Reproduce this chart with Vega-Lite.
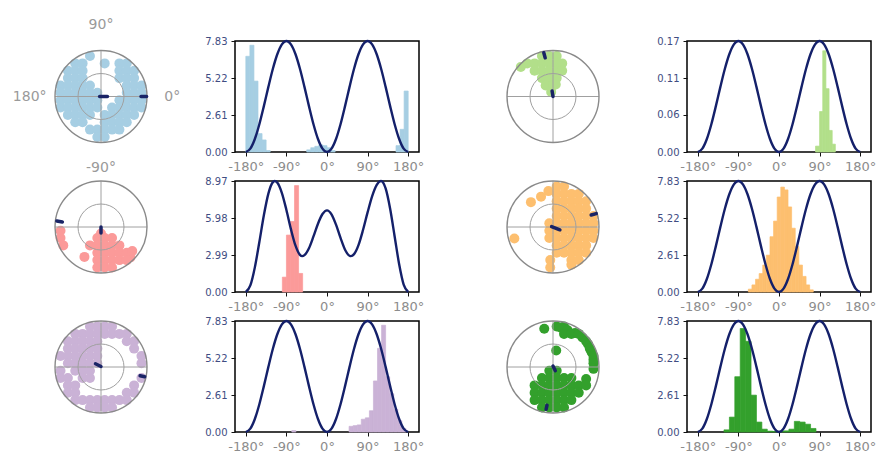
{
"$schema": "https://vega.github.io/schema/vega-lite/v6.json",
"padding": {"left": 12, "top": 18, "right": 0, "bottom": 0},
"background": "white",
"config": {"font": "DejaVu Sans", "view": {"stroke": null}, "axis": {"grid": false, "domain": false, "tickColor": "#111111", "tickSize": 4, "title": null, "labelFlush": false}, "bar": {"strokeWidth": 0.7}},
"columns": 4,
"align": "each",
"bounds": "flush",
"center": true,
"spacing": {"row": 29, "column": 88},
"datasets": {
"s783": [{"x":-180,"y":0},{"x":-170,"y":0.236},{"x":-160,"y":0.916},{"x":-150,"y":1.958},{"x":-140,"y":3.235},{"x":-130,"y":4.595},{"x":-120,"y":5.873},{"x":-110,"y":6.914},{"x":-100,"y":7.594},{"x":-90,"y":7.83},{"x":-80,"y":7.594},{"x":-70,"y":6.914},{"x":-60,"y":5.873},{"x":-50,"y":4.595},{"x":-40,"y":3.235},{"x":-30,"y":1.958},{"x":-20,"y":0.916},{"x":-10,"y":0.236},{"x":0,"y":0},{"x":10,"y":0.236},{"x":20,"y":0.916},{"x":30,"y":1.958},{"x":40,"y":3.235},{"x":50,"y":4.595},{"x":60,"y":5.873},{"x":70,"y":6.914},{"x":80,"y":7.594},{"x":90,"y":7.83},{"x":100,"y":7.594},{"x":110,"y":6.914},{"x":120,"y":5.873},{"x":130,"y":4.595},{"x":140,"y":3.235},{"x":150,"y":1.958},{"x":160,"y":0.916},{"x":170,"y":0.236},{"x":180,"y":0}],
"s017": [{"x":-180,"y":0},{"x":-170,"y":0.00513},{"x":-160,"y":0.01989},{"x":-150,"y":0.0425},{"x":-140,"y":0.07024},{"x":-130,"y":0.09976},{"x":-120,"y":0.1275},{"x":-110,"y":0.15011},{"x":-100,"y":0.16487},{"x":-90,"y":0.17},{"x":-80,"y":0.16487},{"x":-70,"y":0.15011},{"x":-60,"y":0.1275},{"x":-50,"y":0.09976},{"x":-40,"y":0.07024},{"x":-30,"y":0.0425},{"x":-20,"y":0.01989},{"x":-10,"y":0.00513},{"x":0,"y":0},{"x":10,"y":0.00513},{"x":20,"y":0.01989},{"x":30,"y":0.0425},{"x":40,"y":0.07024},{"x":50,"y":0.09976},{"x":60,"y":0.1275},{"x":70,"y":0.15011},{"x":80,"y":0.16487},{"x":90,"y":0.17},{"x":100,"y":0.16487},{"x":110,"y":0.15011},{"x":120,"y":0.1275},{"x":130,"y":0.09976},{"x":140,"y":0.07024},{"x":150,"y":0.0425},{"x":160,"y":0.01989},{"x":170,"y":0.00513},{"x":180,"y":0}],
"spink": [{"x":-180,"y":0},{"x":-170,"y":0.53},{"x":-160,"y":1.99},{"x":-150,"y":4.04},{"x":-140,"y":6.2},{"x":-130,"y":7.95},{"x":-120,"y":8.88},{"x":-116,"y":8.97},{"x":-110,"y":8.83},{"x":-100,"y":8.0},{"x":-90,"y":6.63},{"x":-80,"y":5.08},{"x":-70,"y":3.76},{"x":-60,"y":3.0},{"x":-55,"y":2.9},{"x":-50,"y":2.98},{"x":-40,"y":3.54},{"x":-30,"y":4.49},{"x":-20,"y":5.52},{"x":-10,"y":6.3},{"x":0,"y":6.6},{"x":10,"y":6.28},{"x":20,"y":5.44},{"x":30,"y":4.37},{"x":40,"y":3.42},{"x":50,"y":2.93},{"x":53,"y":2.9},{"x":60,"y":3.06},{"x":70,"y":3.81},{"x":80,"y":5.03},{"x":90,"y":6.43},{"x":100,"y":7.73},{"x":110,"y":8.64},{"x":120,"y":8.97},{"x":130,"y":8.37},{"x":140,"y":6.73},{"x":150,"y":4.49},{"x":160,"y":2.24},{"x":170,"y":0.6},{"x":180,"y":0}]
},
"concat": [
{"width": 92, "height": 92, "layer": [
 {"data": {"values": [{"x":-0.24,"y":0.88},{"x":-0.56,"y":0.72},{"x":-0.40,"y":0.72},{"x":0.08,"y":0.72},{"x":0.40,"y":0.72},{"x":0.56,"y":0.72},{"x":-0.72,"y":0.56},{"x":-0.56,"y":0.56},{"x":-0.40,"y":0.56},{"x":0.40,"y":0.56},{"x":0.56,"y":0.56},{"x":0.72,"y":0.56},{"x":-0.72,"y":0.40},{"x":-0.56,"y":0.40},{"x":-0.40,"y":0.40},{"x":0.40,"y":0.40},{"x":0.56,"y":0.40},{"x":0.72,"y":0.40},{"x":-0.88,"y":0.24},{"x":-0.72,"y":0.24},{"x":-0.56,"y":0.24},{"x":-0.40,"y":0.24},{"x":-0.24,"y":0.24},{"x":0.56,"y":0.24},{"x":0.72,"y":0.24},{"x":0.88,"y":0.24},{"x":-0.88,"y":0.08},{"x":-0.72,"y":0.08},{"x":-0.56,"y":0.08},{"x":-0.40,"y":0.08},{"x":-0.24,"y":0.08},{"x":-0.08,"y":0.08},{"x":0.56,"y":0.08},{"x":0.72,"y":0.08},{"x":0.88,"y":0.08},{"x":-0.88,"y":-0.08},{"x":-0.72,"y":-0.08},{"x":-0.56,"y":-0.08},{"x":-0.40,"y":-0.08},{"x":-0.24,"y":-0.08},{"x":-0.08,"y":-0.08},{"x":0.40,"y":-0.08},{"x":0.56,"y":-0.08},{"x":0.72,"y":-0.08},{"x":0.88,"y":-0.08},{"x":-0.88,"y":-0.24},{"x":-0.72,"y":-0.24},{"x":-0.56,"y":-0.24},{"x":-0.40,"y":-0.24},{"x":-0.24,"y":-0.24},{"x":-0.08,"y":-0.24},{"x":0.24,"y":-0.24},{"x":0.40,"y":-0.24},{"x":0.56,"y":-0.24},{"x":0.72,"y":-0.24},{"x":0.88,"y":-0.24},{"x":-0.72,"y":-0.40},{"x":-0.56,"y":-0.40},{"x":-0.40,"y":-0.40},{"x":-0.24,"y":-0.40},{"x":0.08,"y":-0.40},{"x":0.24,"y":-0.40},{"x":0.40,"y":-0.40},{"x":0.56,"y":-0.40},{"x":0.72,"y":-0.40},{"x":-0.56,"y":-0.56},{"x":-0.40,"y":-0.56},{"x":0.08,"y":-0.56},{"x":0.24,"y":-0.56},{"x":0.40,"y":-0.56},{"x":0.56,"y":-0.56},{"x":-0.24,"y":-0.72},{"x":-0.08,"y":-0.72},{"x":0.08,"y":-0.72},{"x":0.24,"y":-0.72},{"x":0.40,"y":-0.72},{"x":-0.08,"y":-0.88},{"x":0.08,"y":-0.88}]},
  "mark": {"type": "circle", "size": 100, "color": "#a6cee3", "opacity": 1},
  "encoding": {"x": {"field": "x", "type": "quantitative", "scale": {"domain": [-1, 1], "nice": false}, "axis": null}, "y": {"field": "y", "type": "quantitative", "scale": {"domain": [-1, 1], "nice": false}, "axis": null}}},
 {"data": {"values": [{}]}, "mark": {"type": "rule", "color": "#a0a0a0", "strokeWidth": 1}, "encoding": {"x": {"datum": 0, "type": "quantitative", "scale": {"domain": [-1, 1], "nice": false}, "axis": null}}},
 {"data": {"values": [{}]}, "mark": {"type": "rule", "color": "#a0a0a0", "strokeWidth": 1}, "encoding": {"y": {"datum": 0, "type": "quantitative", "scale": {"domain": [-1, 1], "nice": false}, "axis": null}}},
 {"data": {"values": [{"c": 0}]}, "mark": {"type": "point", "shape": "circle", "filled": false, "size": 2116, "color": "#a0a0a0", "strokeWidth": 1, "opacity": 1}, "encoding": {"x": {"field": "c", "type": "quantitative", "scale": {"domain": [-1, 1], "nice": false}, "axis": null}, "y": {"field": "c", "type": "quantitative", "scale": {"domain": [-1, 1], "nice": false}, "axis": null}}},
 {"data": {"values": [{"c": 0}]}, "mark": {"type": "point", "shape": "circle", "filled": false, "size": 8464, "color": "#8a8a8a", "strokeWidth": 1.4, "opacity": 1}, "encoding": {"x": {"field": "c", "type": "quantitative", "scale": {"domain": [-1, 1], "nice": false}, "axis": null}, "y": {"field": "c", "type": "quantitative", "scale": {"domain": [-1, 1], "nice": false}, "axis": null}}},
 {"data": {"values": [{"x": -0.03, "y": 0, "x2": 0.14, "y2": 0}, {"x": 0.87, "y": 0, "x2": 0.99, "y2": 0}]}, "mark": {"type": "rule", "color": "#1a2466", "strokeWidth": 3.5, "strokeCap": "round"}, "encoding": {"x": {"field": "x", "type": "quantitative", "scale": {"domain": [-1, 1], "nice": false}, "axis": null}, "y": {"field": "y", "type": "quantitative", "scale": {"domain": [-1, 1], "nice": false}, "axis": null}, "x2": {"field": "x2"}, "y2": {"field": "y2"}}},
 {"data": {"values": [{"t": "90°", "x": 0, "y": 1.55}, {"t": "180°", "x": -1.55, "y": 0}, {"t": "0°", "x": 1.55, "y": 0}, {"t": "-90°", "x": 0, "y": -1.55}]}, "mark": {"type": "text", "fontSize": 14, "color": "#9a9a9a", "align": "center", "baseline": "middle"}, "encoding": {"x": {"field": "x", "type": "quantitative", "scale": {"domain": [-1, 1], "nice": false}, "axis": null}, "y": {"field": "y", "type": "quantitative", "scale": {"domain": [-1, 1], "nice": false}, "axis": null}, "text": {"field": "t"}}}
]},
{"width": 184, "height": 111, "view": {"stroke": "#000000", "strokeWidth": 1.5},
 "encoding": {"x": {"field": "x", "type": "quantitative", "scale": {"domain": [-204, 204], "nice": false, "zero": false}, "axis": {"values": [-180, -90, 0, 90, 180], "labelExpr": "datum.value + '°'", "labelColor": "#8c8c8c", "labelFontSize": 13, "labelPadding": 4}}, "y": {"field": "y", "type": "quantitative", "scale": {"domain": [0, 7.83], "nice": false}, "axis": {"values": [0, 2.61, 5.22, 7.83], "format": ".2f", "labelColor": "#3f4d82", "labelFontSize": 10, "labelPadding": 4}}},
 "layer": [
 {"data": {"values": [{"x":-180,"x2":-171,"y":6.75},{"x":-171,"x2":-162,"y":7.53},{"x":-162,"x2":-153,"y":5.0},{"x":-153,"x2":-144,"y":1.3},{"x":-144,"x2":-135,"y":0.85},{"x":-135,"x2":-126,"y":0.1},{"x":-45,"x2":-36,"y":0.15},{"x":-36,"x2":-27,"y":0.3},{"x":-27,"x2":-18,"y":0.4},{"x":-18,"x2":-9,"y":0.5},{"x":-9,"x2":0,"y":0.45},{"x":0,"x2":9,"y":0.3},{"x":9,"x2":18,"y":0.1},{"x":153,"x2":162,"y":0.45},{"x":162,"x2":171,"y":1.6},{"x":171,"x2":180,"y":4.3}]}, "mark": {"type": "bar", "color": "#a6cee3", "stroke": "#a6cee3"}, "encoding": {"x2": {"field": "x2"}, "y2": {"datum": 0}}},
 {"data": {"name": "s783"}, "mark": {"type": "line", "color": "#14206a", "strokeWidth": 2.4, "interpolate": "monotone"}}
]},
{"width": 92, "height": 92, "layer": [
 {"data": {"values": [{"x":-0.24,"y":0.88},{"x":-0.08,"y":0.88},{"x":0.08,"y":0.88},{"x":-0.56,"y":0.72},{"x":-0.40,"y":0.72},{"x":-0.24,"y":0.72},{"x":-0.08,"y":0.72},{"x":0.08,"y":0.72},{"x":0.20,"y":0.72},{"x":-0.70,"y":0.64},{"x":-0.40,"y":0.56},{"x":-0.24,"y":0.56},{"x":-0.08,"y":0.56},{"x":0.08,"y":0.56},{"x":0.20,"y":0.56},{"x":-0.24,"y":0.40},{"x":-0.08,"y":0.40},{"x":0.08,"y":0.40},{"x":-0.16,"y":0.24},{"x":0.0,"y":0.24},{"x":0.06,"y":0.26},{"x":-0.04,"y":0.10}]},
  "mark": {"type": "circle", "size": 100, "color": "#b2df8a", "opacity": 1},
  "encoding": {"x": {"field": "x", "type": "quantitative", "scale": {"domain": [-1, 1], "nice": false}, "axis": null}, "y": {"field": "y", "type": "quantitative", "scale": {"domain": [-1, 1], "nice": false}, "axis": null}}},
 {"data": {"values": [{}]}, "mark": {"type": "rule", "color": "#a0a0a0", "strokeWidth": 1}, "encoding": {"x": {"datum": 0, "type": "quantitative", "scale": {"domain": [-1, 1], "nice": false}, "axis": null}}},
 {"data": {"values": [{}]}, "mark": {"type": "rule", "color": "#a0a0a0", "strokeWidth": 1}, "encoding": {"y": {"datum": 0, "type": "quantitative", "scale": {"domain": [-1, 1], "nice": false}, "axis": null}}},
 {"data": {"values": [{"c": 0}]}, "mark": {"type": "point", "shape": "circle", "filled": false, "size": 2116, "color": "#a0a0a0", "strokeWidth": 1, "opacity": 1}, "encoding": {"x": {"field": "c", "type": "quantitative", "scale": {"domain": [-1, 1], "nice": false}, "axis": null}, "y": {"field": "c", "type": "quantitative", "scale": {"domain": [-1, 1], "nice": false}, "axis": null}}},
 {"data": {"values": [{"c": 0}]}, "mark": {"type": "point", "shape": "circle", "filled": false, "size": 8464, "color": "#8a8a8a", "strokeWidth": 1.4, "opacity": 1}, "encoding": {"x": {"field": "c", "type": "quantitative", "scale": {"domain": [-1, 1], "nice": false}, "axis": null}, "y": {"field": "c", "type": "quantitative", "scale": {"domain": [-1, 1], "nice": false}, "axis": null}}},
 {"data": {"values": [{"x": 0, "y": 0, "x2": -0.02, "y2": 0.12}, {"x": -0.17, "y": 0.84, "x2": -0.20, "y2": 0.95}]}, "mark": {"type": "rule", "color": "#1a2466", "strokeWidth": 3.5, "strokeCap": "round"}, "encoding": {"x": {"field": "x", "type": "quantitative", "scale": {"domain": [-1, 1], "nice": false}, "axis": null}, "y": {"field": "y", "type": "quantitative", "scale": {"domain": [-1, 1], "nice": false}, "axis": null}, "x2": {"field": "x2"}, "y2": {"field": "y2"}}}
]},
{"width": 184, "height": 111, "view": {"stroke": "#000000", "strokeWidth": 1.5},
 "encoding": {"x": {"field": "x", "type": "quantitative", "scale": {"domain": [-204, 204], "nice": false, "zero": false}, "axis": {"values": [-180, -90, 0, 90, 180], "labelExpr": "datum.value + '°'", "labelColor": "#8c8c8c", "labelFontSize": 13, "labelPadding": 4}}, "y": {"field": "y", "type": "quantitative", "scale": {"domain": [0, 0.17], "nice": false}, "axis": {"values": [0, 0.0567, 0.1133, 0.17], "format": ".2f", "labelColor": "#3f4d82", "labelFontSize": 10, "labelPadding": 4}}},
 "layer": [
 {"data": {"values": [{"x":81,"x2":90,"y":0.009},{"x":90,"x2":97,"y":0.062},{"x":97,"x2":104,"y":0.155},{"x":104,"x2":111,"y":0.097},{"x":111,"x2":118,"y":0.033},{"x":118,"x2":125,"y":0.012}]}, "mark": {"type": "bar", "color": "#b2df8a", "stroke": "#b2df8a"}, "encoding": {"x2": {"field": "x2"}, "y2": {"datum": 0}}},
 {"data": {"name": "s017"}, "mark": {"type": "line", "color": "#14206a", "strokeWidth": 2.4, "interpolate": "monotone"}}
]},
{"width": 92, "height": 92, "layer": [
 {"data": {"values": [{"x":-0.88,"y":-0.08},{"x":-0.88,"y":-0.24},{"x":-0.82,"y":-0.40},{"x":0.0,"y":-0.14},{"x":-0.08,"y":-0.24},{"x":0.08,"y":-0.24},{"x":0.24,"y":-0.24},{"x":-0.24,"y":-0.40},{"x":-0.08,"y":-0.40},{"x":0.08,"y":-0.40},{"x":0.24,"y":-0.40},{"x":0.40,"y":-0.40},{"x":-0.36,"y":-0.65},{"x":-0.08,"y":-0.56},{"x":0.08,"y":-0.56},{"x":0.24,"y":-0.56},{"x":0.40,"y":-0.56},{"x":0.56,"y":-0.56},{"x":0.68,"y":-0.52},{"x":0.64,"y":-0.66},{"x":-0.08,"y":-0.72},{"x":0.08,"y":-0.72},{"x":0.24,"y":-0.72},{"x":0.40,"y":-0.72},{"x":0.56,"y":-0.72},{"x":-0.08,"y":-0.88},{"x":0.08,"y":-0.88},{"x":0.24,"y":-0.88}]},
  "mark": {"type": "circle", "size": 100, "color": "#fb9a99", "opacity": 1},
  "encoding": {"x": {"field": "x", "type": "quantitative", "scale": {"domain": [-1, 1], "nice": false}, "axis": null}, "y": {"field": "y", "type": "quantitative", "scale": {"domain": [-1, 1], "nice": false}, "axis": null}}},
 {"data": {"values": [{}]}, "mark": {"type": "rule", "color": "#a0a0a0", "strokeWidth": 1}, "encoding": {"x": {"datum": 0, "type": "quantitative", "scale": {"domain": [-1, 1], "nice": false}, "axis": null}}},
 {"data": {"values": [{}]}, "mark": {"type": "rule", "color": "#a0a0a0", "strokeWidth": 1}, "encoding": {"y": {"datum": 0, "type": "quantitative", "scale": {"domain": [-1, 1], "nice": false}, "axis": null}}},
 {"data": {"values": [{"c": 0}]}, "mark": {"type": "point", "shape": "circle", "filled": false, "size": 2116, "color": "#a0a0a0", "strokeWidth": 1, "opacity": 1}, "encoding": {"x": {"field": "c", "type": "quantitative", "scale": {"domain": [-1, 1], "nice": false}, "axis": null}, "y": {"field": "c", "type": "quantitative", "scale": {"domain": [-1, 1], "nice": false}, "axis": null}}},
 {"data": {"values": [{"c": 0}]}, "mark": {"type": "point", "shape": "circle", "filled": false, "size": 8464, "color": "#8a8a8a", "strokeWidth": 1.4, "opacity": 1}, "encoding": {"x": {"field": "c", "type": "quantitative", "scale": {"domain": [-1, 1], "nice": false}, "axis": null}, "y": {"field": "c", "type": "quantitative", "scale": {"domain": [-1, 1], "nice": false}, "axis": null}}},
 {"data": {"values": [{"x": 0, "y": 0, "x2": 0, "y2": -0.13}, {"x": -0.84, "y": 0.11, "x2": -0.96, "y2": 0.13}]}, "mark": {"type": "rule", "color": "#1a2466", "strokeWidth": 3.5, "strokeCap": "round"}, "encoding": {"x": {"field": "x", "type": "quantitative", "scale": {"domain": [-1, 1], "nice": false}, "axis": null}, "y": {"field": "y", "type": "quantitative", "scale": {"domain": [-1, 1], "nice": false}, "axis": null}, "x2": {"field": "x2"}, "y2": {"field": "y2"}}}
]},
{"width": 184, "height": 111, "view": {"stroke": "#000000", "strokeWidth": 1.5},
 "encoding": {"x": {"field": "x", "type": "quantitative", "scale": {"domain": [-204, 204], "nice": false, "zero": false}, "axis": {"values": [-180, -90, 0, 90, 180], "labelExpr": "datum.value + '°'", "labelColor": "#8c8c8c", "labelFontSize": 13, "labelPadding": 4}}, "y": {"field": "y", "type": "quantitative", "scale": {"domain": [0, 8.97], "nice": false}, "axis": {"values": [0, 2.99, 5.98, 8.97], "format": ".2f", "labelColor": "#3f4d82", "labelFontSize": 10, "labelPadding": 4}}},
 "layer": [
 {"data": {"values": [{"x":-99,"x2":-90,"y":1.2},{"x":-90,"x2":-81,"y":4.6},{"x":-81,"x2":-72,"y":5.7},{"x":-72,"x2":-63,"y":8.6},{"x":-63,"x2":-54,"y":1.5}]}, "mark": {"type": "bar", "color": "#fb9a99", "stroke": "#fb9a99"}, "encoding": {"x2": {"field": "x2"}, "y2": {"datum": 0}}},
 {"data": {"name": "spink"}, "mark": {"type": "line", "color": "#14206a", "strokeWidth": 2.4, "interpolate": "monotone"}}
]},
{"width": 92, "height": 92, "layer": [
 {"data": {"values": [{"x":0.08,"y":0.88},{"x":0.24,"y":0.88},{"x":0.08,"y":0.72},{"x":0.24,"y":0.72},{"x":0.40,"y":0.72},{"x":0.56,"y":0.72},{"x":-0.26,"y":0.66},{"x":-0.10,"y":0.78},{"x":-0.48,"y":0.54},{"x":0.08,"y":0.56},{"x":0.24,"y":0.56},{"x":0.40,"y":0.56},{"x":0.56,"y":0.56},{"x":0.72,"y":0.56},{"x":0.08,"y":0.40},{"x":0.24,"y":0.40},{"x":0.40,"y":0.40},{"x":0.56,"y":0.40},{"x":0.72,"y":0.40},{"x":0.08,"y":0.24},{"x":0.24,"y":0.24},{"x":0.40,"y":0.24},{"x":0.56,"y":0.24},{"x":0.72,"y":0.24},{"x":0.88,"y":0.24},{"x":-0.08,"y":0.08},{"x":0.08,"y":0.08},{"x":0.24,"y":0.08},{"x":0.40,"y":0.08},{"x":0.56,"y":0.08},{"x":0.72,"y":0.08},{"x":0.88,"y":0.08},{"x":-0.08,"y":-0.08},{"x":0.08,"y":-0.08},{"x":0.24,"y":-0.08},{"x":0.40,"y":-0.08},{"x":0.56,"y":-0.08},{"x":0.72,"y":-0.08},{"x":0.88,"y":-0.08},{"x":-0.84,"y":-0.25},{"x":-0.08,"y":-0.24},{"x":0.08,"y":-0.24},{"x":0.24,"y":-0.24},{"x":0.40,"y":-0.24},{"x":0.56,"y":-0.24},{"x":0.72,"y":-0.24},{"x":0.88,"y":-0.24},{"x":0.08,"y":-0.40},{"x":0.24,"y":-0.40},{"x":0.40,"y":-0.40},{"x":0.56,"y":-0.40},{"x":0.72,"y":-0.40},{"x":0.08,"y":-0.56},{"x":0.24,"y":-0.56},{"x":0.40,"y":-0.56},{"x":0.56,"y":-0.56},{"x":0.72,"y":-0.56},{"x":-0.06,"y":-0.72},{"x":0.40,"y":-0.72},{"x":0.56,"y":-0.72},{"x":-0.06,"y":-0.88},{"x":0.40,"y":-0.82}]},
  "mark": {"type": "circle", "size": 100, "color": "#fdbf6f", "opacity": 1},
  "encoding": {"x": {"field": "x", "type": "quantitative", "scale": {"domain": [-1, 1], "nice": false}, "axis": null}, "y": {"field": "y", "type": "quantitative", "scale": {"domain": [-1, 1], "nice": false}, "axis": null}}},
 {"data": {"values": [{}]}, "mark": {"type": "rule", "color": "#a0a0a0", "strokeWidth": 1}, "encoding": {"x": {"datum": 0, "type": "quantitative", "scale": {"domain": [-1, 1], "nice": false}, "axis": null}}},
 {"data": {"values": [{}]}, "mark": {"type": "rule", "color": "#a0a0a0", "strokeWidth": 1}, "encoding": {"y": {"datum": 0, "type": "quantitative", "scale": {"domain": [-1, 1], "nice": false}, "axis": null}}},
 {"data": {"values": [{"c": 0}]}, "mark": {"type": "point", "shape": "circle", "filled": false, "size": 2116, "color": "#a0a0a0", "strokeWidth": 1, "opacity": 1}, "encoding": {"x": {"field": "c", "type": "quantitative", "scale": {"domain": [-1, 1], "nice": false}, "axis": null}, "y": {"field": "c", "type": "quantitative", "scale": {"domain": [-1, 1], "nice": false}, "axis": null}}},
 {"data": {"values": [{"c": 0}]}, "mark": {"type": "point", "shape": "circle", "filled": false, "size": 8464, "color": "#8a8a8a", "strokeWidth": 1.4, "opacity": 1}, "encoding": {"x": {"field": "c", "type": "quantitative", "scale": {"domain": [-1, 1], "nice": false}, "axis": null}, "y": {"field": "c", "type": "quantitative", "scale": {"domain": [-1, 1], "nice": false}, "axis": null}}},
 {"data": {"values": [{"x": -0.03, "y": 0.01, "x2": 0.15, "y2": -0.06}, {"x": 0.83, "y": 0.26, "x2": 0.94, "y2": 0.29}]}, "mark": {"type": "rule", "color": "#1a2466", "strokeWidth": 3.5, "strokeCap": "round"}, "encoding": {"x": {"field": "x", "type": "quantitative", "scale": {"domain": [-1, 1], "nice": false}, "axis": null}, "y": {"field": "y", "type": "quantitative", "scale": {"domain": [-1, 1], "nice": false}, "axis": null}, "x2": {"field": "x2"}, "y2": {"field": "y2"}}}
]},
{"width": 184, "height": 111, "view": {"stroke": "#000000", "strokeWidth": 1.5},
 "encoding": {"x": {"field": "x", "type": "quantitative", "scale": {"domain": [-204, 204], "nice": false, "zero": false}, "axis": {"values": [-180, -90, 0, 90, 180], "labelExpr": "datum.value + '°'", "labelColor": "#8c8c8c", "labelFontSize": 13, "labelPadding": 4}}, "y": {"field": "y", "type": "quantitative", "scale": {"domain": [0, 7.83], "nice": false}, "axis": {"values": [0, 2.61, 5.22, 7.83], "format": ".2f", "labelColor": "#3f4d82", "labelFontSize": 10, "labelPadding": 4}}},
 "layer": [
 {"data": {"values": [{"x":-68,"x2":-60,"y":0.2},{"x":-60,"x2":-52,"y":0.5},{"x":-52,"x2":-44,"y":0.9},{"x":-44,"x2":-36,"y":1.3},{"x":-36,"x2":-28,"y":1.9},{"x":-28,"x2":-20,"y":2.6},{"x":-20,"x2":-12,"y":3.9},{"x":-12,"x2":-4,"y":5.0},{"x":-4,"x2":4,"y":6.7},{"x":4,"x2":12,"y":7.4},{"x":12,"x2":20,"y":7.2},{"x":20,"x2":28,"y":6.0},{"x":28,"x2":36,"y":4.5},{"x":36,"x2":44,"y":3.2},{"x":44,"x2":52,"y":1.9},{"x":52,"x2":60,"y":1.1},{"x":60,"x2":68,"y":0.5},{"x":68,"x2":76,"y":0.15}]}, "mark": {"type": "bar", "color": "#fdbf6f", "stroke": "#fdbf6f"}, "encoding": {"x2": {"field": "x2"}, "y2": {"datum": 0}}},
 {"data": {"name": "s783"}, "mark": {"type": "line", "color": "#14206a", "strokeWidth": 2.4, "interpolate": "monotone"}}
]},
{"width": 92, "height": 92, "layer": [
 {"data": {"values": [{"x":-0.24,"y":0.88},{"x":-0.08,"y":0.88},{"x":0.08,"y":0.88},{"x":0.24,"y":0.88},{"x":-0.56,"y":0.72},{"x":-0.40,"y":0.72},{"x":-0.24,"y":0.72},{"x":-0.08,"y":0.72},{"x":0.08,"y":0.72},{"x":0.24,"y":0.72},{"x":0.40,"y":0.72},{"x":0.56,"y":0.72},{"x":-0.72,"y":0.56},{"x":-0.56,"y":0.56},{"x":-0.40,"y":0.56},{"x":-0.24,"y":0.56},{"x":-0.08,"y":0.56},{"x":0.56,"y":0.56},{"x":0.72,"y":0.56},{"x":-0.72,"y":0.40},{"x":-0.56,"y":0.40},{"x":-0.40,"y":0.40},{"x":-0.24,"y":0.40},{"x":-0.08,"y":0.40},{"x":0.72,"y":0.40},{"x":-0.88,"y":0.24},{"x":-0.72,"y":0.24},{"x":-0.56,"y":0.24},{"x":-0.40,"y":0.24},{"x":-0.24,"y":0.24},{"x":-0.08,"y":0.24},{"x":0.88,"y":0.24},{"x":-0.72,"y":0.08},{"x":-0.56,"y":0.08},{"x":-0.40,"y":0.08},{"x":-0.24,"y":0.08},{"x":-0.08,"y":0.08},{"x":0.88,"y":0.08},{"x":-0.88,"y":-0.08},{"x":-0.56,"y":-0.08},{"x":-0.40,"y":-0.08},{"x":-0.24,"y":-0.08},{"x":-0.88,"y":-0.24},{"x":-0.72,"y":-0.24},{"x":-0.40,"y":-0.24},{"x":-0.24,"y":-0.24},{"x":0.88,"y":-0.24},{"x":-0.72,"y":-0.40},{"x":-0.56,"y":-0.40},{"x":0.72,"y":-0.40},{"x":-0.72,"y":-0.56},{"x":-0.56,"y":-0.56},{"x":0.56,"y":-0.56},{"x":0.72,"y":-0.56},{"x":-0.56,"y":-0.72},{"x":-0.40,"y":-0.72},{"x":-0.24,"y":-0.72},{"x":-0.08,"y":-0.72},{"x":0.08,"y":-0.72},{"x":0.24,"y":-0.72},{"x":0.40,"y":-0.72},{"x":0.56,"y":-0.72},{"x":-0.24,"y":-0.88},{"x":-0.08,"y":-0.88},{"x":0.08,"y":-0.88},{"x":0.24,"y":-0.88}]},
  "mark": {"type": "circle", "size": 100, "color": "#cab2d6", "opacity": 1},
  "encoding": {"x": {"field": "x", "type": "quantitative", "scale": {"domain": [-1, 1], "nice": false}, "axis": null}, "y": {"field": "y", "type": "quantitative", "scale": {"domain": [-1, 1], "nice": false}, "axis": null}}},
 {"data": {"values": [{}]}, "mark": {"type": "rule", "color": "#a0a0a0", "strokeWidth": 1}, "encoding": {"x": {"datum": 0, "type": "quantitative", "scale": {"domain": [-1, 1], "nice": false}, "axis": null}}},
 {"data": {"values": [{}]}, "mark": {"type": "rule", "color": "#a0a0a0", "strokeWidth": 1}, "encoding": {"y": {"datum": 0, "type": "quantitative", "scale": {"domain": [-1, 1], "nice": false}, "axis": null}}},
 {"data": {"values": [{"c": 0}]}, "mark": {"type": "point", "shape": "circle", "filled": false, "size": 2116, "color": "#a0a0a0", "strokeWidth": 1, "opacity": 1}, "encoding": {"x": {"field": "c", "type": "quantitative", "scale": {"domain": [-1, 1], "nice": false}, "axis": null}, "y": {"field": "c", "type": "quantitative", "scale": {"domain": [-1, 1], "nice": false}, "axis": null}}},
 {"data": {"values": [{"c": 0}]}, "mark": {"type": "point", "shape": "circle", "filled": false, "size": 8464, "color": "#8a8a8a", "strokeWidth": 1.4, "opacity": 1}, "encoding": {"x": {"field": "c", "type": "quantitative", "scale": {"domain": [-1, 1], "nice": false}, "axis": null}, "y": {"field": "c", "type": "quantitative", "scale": {"domain": [-1, 1], "nice": false}, "axis": null}}},
 {"data": {"values": [{"x": 0, "y": 0.01, "x2": -0.12, "y2": 0.07}, {"x": 0.85, "y": -0.19, "x2": 0.95, "y2": -0.21}]}, "mark": {"type": "rule", "color": "#1a2466", "strokeWidth": 3.5, "strokeCap": "round"}, "encoding": {"x": {"field": "x", "type": "quantitative", "scale": {"domain": [-1, 1], "nice": false}, "axis": null}, "y": {"field": "y", "type": "quantitative", "scale": {"domain": [-1, 1], "nice": false}, "axis": null}, "x2": {"field": "x2"}, "y2": {"field": "y2"}}}
]},
{"width": 184, "height": 111, "view": {"stroke": "#000000", "strokeWidth": 1.5},
 "encoding": {"x": {"field": "x", "type": "quantitative", "scale": {"domain": [-204, 204], "nice": false, "zero": false}, "axis": {"values": [-180, -90, 0, 90, 180], "labelExpr": "datum.value + '°'", "labelColor": "#8c8c8c", "labelFontSize": 13, "labelPadding": 4}}, "y": {"field": "y", "type": "quantitative", "scale": {"domain": [0, 7.83], "nice": false}, "axis": {"values": [0, 2.61, 5.22, 7.83], "format": ".2f", "labelColor": "#3f4d82", "labelFontSize": 10, "labelPadding": 4}}},
 "layer": [
 {"data": {"values": [{"x":-78,"x2":-69,"y":0.1},{"x":49,"x2":58,"y":0.4},{"x":58,"x2":67,"y":0.45},{"x":67,"x2":76,"y":0.5},{"x":76,"x2":85,"y":0.9},{"x":85,"x2":94,"y":1.0},{"x":94,"x2":103,"y":1.5},{"x":103,"x2":112,"y":3.6},{"x":112,"x2":121,"y":5.9},{"x":121,"x2":130,"y":7.53},{"x":130,"x2":139,"y":3.9},{"x":139,"x2":148,"y":2.7},{"x":148,"x2":157,"y":1.6},{"x":157,"x2":166,"y":0.8},{"x":166,"x2":175,"y":0.25}]}, "mark": {"type": "bar", "color": "#cab2d6", "stroke": "#cab2d6"}, "encoding": {"x2": {"field": "x2"}, "y2": {"datum": 0}}},
 {"data": {"name": "s783"}, "mark": {"type": "line", "color": "#14206a", "strokeWidth": 2.4, "interpolate": "monotone"}}
]},
{"width": 92, "height": 92, "layer": [
 {"data": {"values": [{"x":0.08,"y":0.88},{"x":0.24,"y":0.88},{"x":-0.19,"y":0.83},{"x":0.16,"y":0.86},{"x":0.32,"y":0.80},{"x":0.48,"y":0.74},{"x":0.64,"y":0.64},{"x":0.76,"y":0.50},{"x":0.84,"y":0.32},{"x":0.88,"y":0.16},{"x":0.24,"y":0.72},{"x":0.40,"y":0.72},{"x":0.56,"y":0.72},{"x":0.72,"y":0.56},{"x":0.80,"y":0.40},{"x":0.88,"y":0.24},{"x":0.88,"y":0.08},{"x":0.88,"y":-0.04},{"x":0.07,"y":0.36},{"x":-0.08,"y":-0.08},{"x":0.08,"y":-0.08},{"x":-0.24,"y":-0.24},{"x":-0.08,"y":-0.24},{"x":0.08,"y":-0.24},{"x":0.24,"y":-0.24},{"x":0.40,"y":-0.24},{"x":0.72,"y":-0.26},{"x":-0.40,"y":-0.40},{"x":-0.24,"y":-0.40},{"x":-0.08,"y":-0.40},{"x":0.08,"y":-0.40},{"x":0.24,"y":-0.40},{"x":0.40,"y":-0.40},{"x":0.56,"y":-0.40},{"x":0.72,"y":-0.40},{"x":-0.40,"y":-0.56},{"x":-0.24,"y":-0.56},{"x":-0.08,"y":-0.56},{"x":0.08,"y":-0.56},{"x":0.24,"y":-0.56},{"x":0.40,"y":-0.56},{"x":0.56,"y":-0.56},{"x":-0.40,"y":-0.72},{"x":-0.24,"y":-0.72},{"x":-0.08,"y":-0.72},{"x":0.08,"y":-0.72},{"x":0.24,"y":-0.72},{"x":0.40,"y":-0.72},{"x":-0.24,"y":-0.88},{"x":-0.08,"y":-0.88},{"x":0.08,"y":-0.88},{"x":0.24,"y":-0.88}]},
  "mark": {"type": "circle", "size": 100, "color": "#33a02c", "opacity": 1},
  "encoding": {"x": {"field": "x", "type": "quantitative", "scale": {"domain": [-1, 1], "nice": false}, "axis": null}, "y": {"field": "y", "type": "quantitative", "scale": {"domain": [-1, 1], "nice": false}, "axis": null}}},
 {"data": {"values": [{}]}, "mark": {"type": "rule", "color": "#a0a0a0", "strokeWidth": 1}, "encoding": {"x": {"datum": 0, "type": "quantitative", "scale": {"domain": [-1, 1], "nice": false}, "axis": null}}},
 {"data": {"values": [{}]}, "mark": {"type": "rule", "color": "#a0a0a0", "strokeWidth": 1}, "encoding": {"y": {"datum": 0, "type": "quantitative", "scale": {"domain": [-1, 1], "nice": false}, "axis": null}}},
 {"data": {"values": [{"c": 0}]}, "mark": {"type": "point", "shape": "circle", "filled": false, "size": 2116, "color": "#a0a0a0", "strokeWidth": 1, "opacity": 1}, "encoding": {"x": {"field": "c", "type": "quantitative", "scale": {"domain": [-1, 1], "nice": false}, "axis": null}, "y": {"field": "c", "type": "quantitative", "scale": {"domain": [-1, 1], "nice": false}, "axis": null}}},
 {"data": {"values": [{"c": 0}]}, "mark": {"type": "point", "shape": "circle", "filled": false, "size": 8464, "color": "#8a8a8a", "strokeWidth": 1.4, "opacity": 1}, "encoding": {"x": {"field": "c", "type": "quantitative", "scale": {"domain": [-1, 1], "nice": false}, "axis": null}, "y": {"field": "c", "type": "quantitative", "scale": {"domain": [-1, 1], "nice": false}, "axis": null}}},
 {"data": {"values": [{"x": 0, "y": 0.02, "x2": 0.05, "y2": -0.08}, {"x": -0.13, "y": -0.83, "x2": -0.15, "y2": -0.92}]}, "mark": {"type": "rule", "color": "#1a2466", "strokeWidth": 3.5, "strokeCap": "round"}, "encoding": {"x": {"field": "x", "type": "quantitative", "scale": {"domain": [-1, 1], "nice": false}, "axis": null}, "y": {"field": "y", "type": "quantitative", "scale": {"domain": [-1, 1], "nice": false}, "axis": null}, "x2": {"field": "x2"}, "y2": {"field": "y2"}}}
]},
{"width": 184, "height": 111, "view": {"stroke": "#000000", "strokeWidth": 1.5},
 "encoding": {"x": {"field": "x", "type": "quantitative", "scale": {"domain": [-204, 204], "nice": false, "zero": false}, "axis": {"values": [-180, -90, 0, 90, 180], "labelExpr": "datum.value + '°'", "labelColor": "#8c8c8c", "labelFontSize": 13, "labelPadding": 4}}, "y": {"field": "y", "type": "quantitative", "scale": {"domain": [0, 7.83], "nice": false}, "axis": {"values": [0, 2.61, 5.22, 7.83], "format": ".2f", "labelColor": "#3f4d82", "labelFontSize": 10, "labelPadding": 4}}},
 "layer": [
 {"data": {"values": [{"x":-122,"x2":-110,"y":0.15},{"x":-110,"x2":-98,"y":1.05},{"x":-98,"x2":-86,"y":3.9},{"x":-86,"x2":-74,"y":7.3},{"x":-74,"x2":-62,"y":6.4},{"x":-62,"x2":-50,"y":2.6},{"x":-50,"x2":-38,"y":0.7},{"x":-38,"x2":-26,"y":0.2},{"x":-26,"x2":-14,"y":0.06},{"x":-14,"x2":-2,"y":0.04},{"x":-2,"x2":10,"y":0.04},{"x":10,"x2":22,"y":0.08},{"x":22,"x2":34,"y":0.2},{"x":34,"x2":46,"y":0.75},{"x":46,"x2":58,"y":0.7},{"x":58,"x2":70,"y":0.55},{"x":70,"x2":82,"y":0.25}]}, "mark": {"type": "bar", "color": "#33a02c", "stroke": "#33a02c"}, "encoding": {"x2": {"field": "x2"}, "y2": {"datum": 0}}},
 {"data": {"name": "s783"}, "mark": {"type": "line", "color": "#14206a", "strokeWidth": 2.4, "interpolate": "monotone"}}
]}
]
}
